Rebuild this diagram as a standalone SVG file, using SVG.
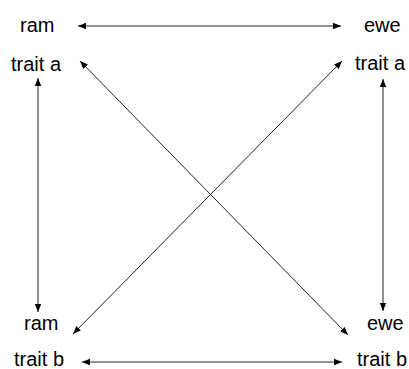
<svg xmlns="http://www.w3.org/2000/svg" width="409" height="369" viewBox="0 0 409 369">
<style>
text{font-family:"Liberation Sans",Arial,sans-serif;font-size:20px;fill:#000}
.c line{stroke:#222;stroke-width:1}
</style>
<defs>
<marker id="ah" viewBox="0 0 10 10" refX="10" refY="5" markerWidth="8" markerHeight="8" markerUnits="userSpaceOnUse" orient="auto-start-reverse">
<path d="M0,1 L10,5 L0,9 Z" fill="#000"/>
</marker>
</defs>
<rect width="409" height="369" fill="#fff"/>
<g id="ram-a"><text x="20" y="32">ram</text><text x="11" y="71">trait a</text></g>
<g id="ewe-a"><text x="364" y="32">ewe</text><text x="355" y="70">trait a</text></g>
<g id="ram-b"><text x="24" y="330">ram</text><text x="14" y="366">trait b</text></g>
<g id="ewe-b"><text x="367" y="330">ewe</text><text x="357" y="366">trait b</text></g>
<g class="c" id="connectors">
<line x1="78" y1="26" x2="341" y2="26" marker-start="url(#ah)" marker-end="url(#ah)"/>
<line x1="82" y1="362" x2="342" y2="362" marker-start="url(#ah)" marker-end="url(#ah)"/>
<line x1="38" y1="78" x2="38" y2="312" marker-start="url(#ah)" marker-end="url(#ah)"/>
<line x1="383" y1="79" x2="383" y2="311" marker-start="url(#ah)" marker-end="url(#ah)"/>
<line x1="80" y1="61" x2="348" y2="335" marker-start="url(#ah)" marker-end="url(#ah)"/>
<line x1="342" y1="61" x2="73" y2="334" marker-start="url(#ah)" marker-end="url(#ah)"/>
</g>
</svg>
